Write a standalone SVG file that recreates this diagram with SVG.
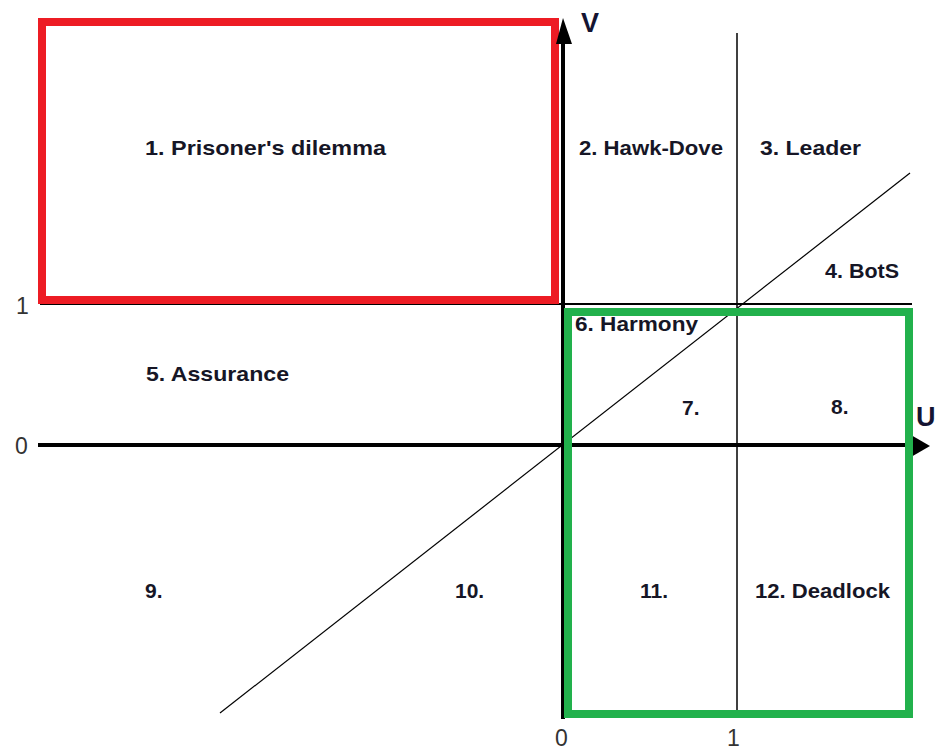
<svg xmlns="http://www.w3.org/2000/svg" width="936" height="750" viewBox="0 0 936 750">
<style>
.lbl{font-family:"Liberation Sans",Arial,sans-serif;font-weight:bold;font-size:21px;fill:#161626}
.tick{font-family:"Liberation Sans",Arial,sans-serif;font-size:23px;fill:#333}
.axl{font-family:"Liberation Sans",Arial,sans-serif;font-weight:bold;font-size:27px;fill:#141432}
.thin{stroke:#000;fill:none}
</style>
<rect width="936" height="750" fill="#fff"/>
<g id="connectors">
<line class="thin" x1="737" y1="33" x2="737" y2="718" stroke-width="1.5"/>
<line class="thin" x1="40" y1="304" x2="912" y2="304" stroke-width="2"/>
<line class="thin" x1="220" y1="713" x2="910" y2="173" stroke-width="1.2"/>
</g>
<g id="pd-box"><rect x="42" y="22" width="513" height="278" fill="none" stroke="#ed1c24" stroke-width="8"/></g>
<g id="axes">
<line x1="563" y1="30" x2="563" y2="719" stroke="#000" stroke-width="4"/>
<polygon points="563,18 572,44 556,44" fill="#000"/>
<line x1="38" y1="445" x2="915" y2="445" stroke="#000" stroke-width="4"/>
<polygon points="930,446 911,435 911,457" fill="#000"/>
</g>
<g id="harmony-box"><rect x="568" y="312" width="341" height="402" fill="none" stroke="#22b14c" stroke-width="8"/></g>
<g id="labels">
<text class="axl" x="581" y="32">V</text>
<text class="axl" x="916" y="426">U</text>
<text class="tick" x="16" y="314">1</text>
<text class="tick" x="15" y="454">0</text>
<text class="tick" x="555" y="746">0</text>
<text class="tick" x="727" y="746">1</text>
<text class="lbl" x="145" y="155" textLength="241" lengthAdjust="spacingAndGlyphs">1. Prisoner's dilemma</text>
<text class="lbl" x="579" y="155" textLength="144" lengthAdjust="spacingAndGlyphs">2. Hawk-Dove</text>
<text class="lbl" x="760" y="155" textLength="101" lengthAdjust="spacingAndGlyphs">3. Leader</text>
<text class="lbl" x="825" y="278" textLength="74" lengthAdjust="spacingAndGlyphs">4. BotS</text>
<text class="lbl" x="146" y="381" textLength="143" lengthAdjust="spacingAndGlyphs">5. Assurance</text>
<text class="lbl" x="575" y="331" textLength="123" lengthAdjust="spacingAndGlyphs">6. Harmony</text>
<text class="lbl" x="682" y="415">7.</text>
<text class="lbl" x="831" y="414">8.</text>
<text class="lbl" x="145" y="598">9.</text>
<text class="lbl" x="455" y="598">10.</text>
<text class="lbl" x="640" y="598">11.</text>
<text class="lbl" x="755" y="598" textLength="135" lengthAdjust="spacingAndGlyphs">12. Deadlock</text>
</g>
</svg>
